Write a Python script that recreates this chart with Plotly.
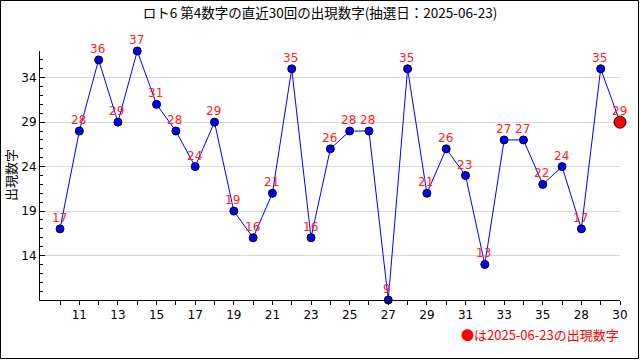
import plotly.graph_objects as go

values = [17, 28, 36, 29, 37, 31, 28, 24, 29, 19, 16, 21, 35, 16, 26,
          28, 28, 9, 35, 21, 26, 23, 13, 27, 27, 22, 24, 17, 35, 29]
x_labels = ["", "11", "", "13", "", "15", "", "17", "", "19", "", "21", "", "23", "",
            "25", "", "27", "", "29", "", "31", "", "33", "", "35", "", "28", "", "30"]
y_ticks = [14, 19, 24, 29, 34]
title = "ロト6 第4数字の直近30回の出現数字(抽選日：2025-06-23)"
y_title = "出現数字"
note = "●は2025-06-23の出現数字"

xs = list(range(1, len(values) + 1))
JP = "Noto Sans CJK JP"

fig = go.Figure()
fig.add_trace(go.Scatter(
    x=xs, y=values, mode="lines+markers",
    line=dict(color="#0000ff", width=1),
    marker=dict(size=8, color="#0000ff", line=dict(color="black", width=1)),
    cliponaxis=False, hoverinfo="skip", showlegend=False,
))
fig.add_trace(go.Scatter(
    x=[xs[-1]], y=[values[-1]], mode="markers",
    marker=dict(size=12, color="#ff0000", line=dict(color="black", width=1)),
    cliponaxis=False, hoverinfo="skip", showlegend=False,
))

L, R, T, B = 40, 20, 51, 60
W, H = 640, 360
pw, ph = W - L - R, H - T - B

annotations = [
    dict(text=str(v), x=x, y=v, xref="x", yref="y", showarrow=False,
         xanchor="center", yanchor="middle", xshift=-1, yshift=11,
         font=dict(family="DejaVu Sans", size=12, color="#ff2020"))
    for x, v in zip(xs, values)
]
annotations += [
    dict(text=note, xref="paper", yref="paper",
         x=1 + 1 / pw, y=-(334 - T - ph) / ph, xanchor="right", yanchor="middle",
         showarrow=False, font=dict(family=JP, size=13, color="#ff0000")),
    dict(text=y_title, xref="paper", yref="paper", textangle=-90,
         x=-(L - 10) / pw, y=1 - (175 - T) / ph, xanchor="center", yanchor="middle",
         showarrow=False, font=dict(family=JP, size=13, color="black")),
]

fig.update_layout(
    width=W, height=H,
    margin=dict(l=L, r=R, t=T, b=B, autoexpand=False),
    paper_bgcolor="white", plot_bgcolor="white",
    font=dict(family=JP, size=12, color="black"),
    title=dict(text=title, x=0.5, xanchor="center", y=1 - 13 / H, yanchor="middle",
               font=dict(family=JP, size=13.5, color="black"), automargin=False),
    xaxis=dict(
        range=[-0.036, 30], tickvals=xs, ticktext=x_labels,
        ticks="outside", ticklen=4, tickcolor="black",
        showline=True, linecolor="black", linewidth=1,
        showgrid=False, zeroline=False, automargin=False,
        tickfont=dict(family="DejaVu Sans", size=12, color="black"),
    ),
    yaxis=dict(
        range=[9, 37], tickvals=y_ticks,
        ticks="inside", ticklen=5, tickcolor="black",
        minor=dict(dtick=1, tick0=9, ticks="inside", ticklen=3, tickcolor="black", showgrid=False),
        showline=True, linecolor="black", linewidth=1,
        showgrid=True, gridcolor="#d8d8d8", gridwidth=1, zeroline=False, automargin=False,
        tickfont=dict(family="DejaVu Sans", size=12, color="black"),
    ),
    shapes=[dict(
        type="rect", xref="paper", yref="paper",
        x0=-(L - 0.5) / pw, x1=1 + (R - 1.5) / pw,
        y0=-(B - 1.5) / ph, y1=1 + (T - 0.5) / ph,
        line=dict(color="black", width=1), layer="above",
    )],
    annotations=annotations,
)

fig.write_html("out.html", config={"displayModeBar": False},
               post_script="document.body.style.margin='0';document.body.style.overflow='hidden';")
